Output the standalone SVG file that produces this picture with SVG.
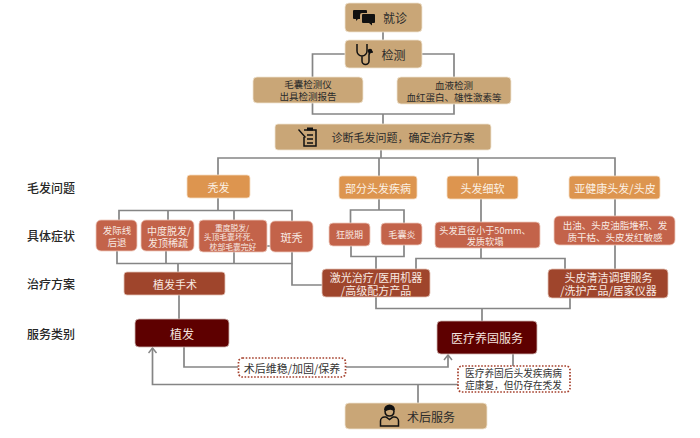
<svg xmlns="http://www.w3.org/2000/svg" width="700" height="438" viewBox="0 0 700 438">
<style>
text{font-family:"Noto Sans CJK SC","Liberation Sans",sans-serif;text-anchor:middle;dominant-baseline:central}
.tan rect{fill:#c9a677;stroke:#f0e4d2;stroke-width:.8}
.tan text{fill:#2b2b2b}
.org rect{fill:#dd954f;stroke:#f5dcc2;stroke-width:.8}
.org text{fill:#fbf1e6;font-size:11px}
.sym rect{fill:#c3634a;stroke:#eec9bd;stroke-width:.8}
.sym text{fill:#f8e9e2}
.tre rect{fill:#9f452c;stroke:#e3c3b6;stroke-width:.8}
.tre text{fill:#f8e9e2}
.srv rect{fill:#5e0000;stroke:#cfb5b0;stroke-width:.8}
.srv text{fill:#f3e3df}
.note rect{fill:#fff;stroke:#a5402c;stroke-width:1.7;stroke-dasharray:1.6 1.6}
.note text{fill:#333}
.lab text{fill:#262626;font-size:12px;font-weight:500}
#connectors path{fill:none;stroke:#858585;stroke-width:1.7}
.ic{fill:#111}
.il{fill:none;stroke:#111;stroke-width:1.5}
</style>
<defs><marker id="a" markerWidth="10" markerHeight="10" refX="6" refY="5" orient="auto" markerUnits="userSpaceOnUse"><path d="M1 1L6 5L1 9" fill="none" stroke="#858585" stroke-width="1.5"/></marker></defs>
<g id="connectors">
<path d="M383 32V40"/>
<path d="M345 54H312.500V114H454V54H422M383 114V124"/>
<path d="M381 150V158M218 175V158H615V176M379 158V176M478 158V176"/>
<path d="M218 198V210.500M119 220V210.500H292V221M168 210.500V220M234 210.500V220"/>
<path d="M117 251V263.500H292V252M166 251V263.500M234 252V263.500M178 263.500V272"/>
<path d="M267 246H270M292 263.500V285H322"/>
<path d="M379 199V210M350.500 223V210H404V223"/>
<path d="M351 246V256.500H404V245M376 256.500V269"/>
<path d="M481 199V222M481 248V258.500M416 269V258.500H565V269"/>
<path d="M615 199V216M615 245V269"/>
<path d="M376 297V308.500H570V298M482 308.500V321"/>
<path d="M179 295V319"/>
<path d="M184 347V367H238"/>
<path d="M346 367H448V355" marker-end="url(#a)"/>
<path d="M418 403V384.500"/>
<path d="M459 384.500H152.500V348" marker-end="url(#a)"/>
<path d="M513 354V366"/>
</g>
<g class="lab">
<g id="lab1"><text x="51" y="187">毛发问题</text></g>
<g id="lab2"><text x="51" y="235">具体症状</text></g>
<g id="lab3"><text x="51" y="283">治疗方案</text></g>
<g id="lab4"><text x="51" y="333">服务类别</text></g>
</g>
<g class="tan">
<g id="n-visit"><rect x="345" y="3" width="77" height="29" rx="4"/><text x="395" y="17" font-size="12">就诊</text>
<path class="ic" d="M354 10h12a1 1 0 0 1 1 1v2h-5a2 2 0 0 0-2 2v4h-2l-2 2v-2h-2a1 1 0 0 1-1-1v-7a1 1 0 0 1 1-1z"/>
<path class="ic" d="M363 14h11a1 1 0 0 1 1 1v7a1 1 0 0 1-1 1h-2v2.500l-3-2.500h-6a1 1 0 0 1-1-1v-7a1 1 0 0 1 1-1z"/></g>
<g id="n-test"><rect x="345" y="40" width="77" height="28" rx="4"/><text x="393.500" y="54" font-size="12">检测</text>
<path class="il" d="M357 44v7a5 5 0 0 0 10 0v-7M362 56v5a3.500 3.500 0 0 0 7 0v-6a3 3 0 0 1 3-3h1"/><circle class="ic" cx="370" cy="51" r="2.300"/></g>
<g id="n-hair-test"><rect x="253" y="77" width="110" height="26" rx="4"/><text font-size="9.500"><tspan x="308" y="84">毛囊检测仪</tspan><tspan x="308" y="96">出具检测报告</tspan></text></g>
<g id="n-blood"><rect x="397" y="77" width="114" height="27" rx="4"/><text font-size="9.500"><tspan x="454" y="84.500">血液检测</tspan><tspan x="454" y="96.500">血红蛋白、雄性激素等</tspan></text></g>
<g id="n-diagnosis"><rect x="275" y="124" width="216" height="26" rx="3"/><text x="403" y="137" font-size="11">诊断毛发问题，确定治疗方案</text>
<path class="il" d="M304 130h12v16h-12v-9M307 135h6M307 139h6M307 143h6" stroke-width="1.200"/><rect x="307" y="127.500" width="6" height="3" style="fill:#111;stroke:none"/><path class="ic" d="M299 129l7 8-1 1-7-8z"/></g>
<g id="n-after"><rect x="345" y="403" width="142" height="26" rx="4"/><text x="431" y="416" font-size="12">术后服务</text>
<path class="ic" d="M384 410a5.500 5.500 0 0 1 11 0l-1 1.500q-3-3.500-9 0z"/><path class="il" d="M385 411q0 5 4.500 5t4.500-5" stroke-width="1"/><path class="il" d="M380.500 426v-5a4 4 0 0 1 4-4h1.500l3.500 2.500 3.500-2.500h1.500a4 4 0 0 1 4 4v5z" stroke-width="1.100"/></g>
</g>
<g class="org">
<g id="n-bald"><rect x="187" y="175" width="63" height="23" rx="3"/><text x="218.500" y="186.500">秃发</text></g>
<g id="n-partial"><rect x="339" y="176" width="78" height="23" rx="3"/><text x="378" y="187.500">部分头发疾病</text></g>
<g id="n-soft"><rect x="447" y="176" width="71" height="23" rx="3"/><text x="482.500" y="187.500">头发细软</text></g>
<g id="n-sub"><rect x="569" y="176" width="91" height="23" rx="3"/><text x="615" y="187.500">亚健康头发/头皮</text></g>
</g>
<g class="sym">
<g id="n-s1"><rect x="96" y="220" width="41" height="31" rx="5"/><text font-size="9.500"><tspan x="117" y="229.500">发际线</tspan><tspan x="117" y="242">后退</tspan></text></g>
<g id="n-s2"><rect x="141" y="220" width="53" height="31" rx="5"/><text font-size="10"><tspan x="169" y="229.500">中度脱发/</tspan><tspan x="168" y="242">发顶稀疏</tspan></text></g>
<g id="n-s3"><rect x="199" y="220" width="68" height="32" rx="4"/><text font-size="7.800"><tspan x="232" y="226.500">重度脱发/</tspan><tspan x="231" y="236">头顶毛囊坏死、</tspan><tspan x="233" y="245.500">枕部毛囊完好</tspan></text></g>
<g id="n-s4"><rect x="270" y="221" width="43" height="31" rx="5"/><text x="291.500" y="236.500" font-size="11">斑秃</text></g>
<g id="n-s5"><rect x="329" y="223" width="41" height="23" rx="4"/><text x="349.500" y="234.500" font-size="9">狂脱期</text></g>
<g id="n-s6"><rect x="381" y="223" width="41" height="22" rx="4"/><text x="402" y="234" font-size="9.200">毛囊炎</text></g>
<g id="n-s7"><rect x="435" y="222" width="105" height="26" rx="4"/><text font-size="9.200"><tspan x="485" y="229.500">头发直径小于50mm、</tspan><tspan x="485" y="241">发质软塌</tspan></text></g>
<g id="n-s8"><rect x="554" y="216" width="121" height="29" rx="5"/><text font-size="9.500"><tspan x="615" y="225">出油、头皮油脂堆积、发</tspan><tspan x="615" y="236.500">质干枯、头皮发红敏感</tspan></text></g>
</g>
<g class="tre">
<g id="n-t1"><rect x="124" y="272" width="101" height="23" rx="3"/><text x="175" y="283.500" font-size="11">植发手术</text></g>
<g id="n-t2"><rect x="322" y="269" width="108" height="28" rx="4"/><text font-size="11"><tspan x="376" y="276.500">激光治疗/医用机器</tspan><tspan x="376" y="289.500">/高级配方产品</tspan></text></g>
<g id="n-t3"><rect x="548" y="269" width="120" height="29" rx="4"/><text font-size="11"><tspan x="608.500" y="277">头皮清洁调理服务</tspan><tspan x="608.500" y="290">/洗护产品/居家仪器</tspan></text></g>
</g>
<g class="srv">
<g id="n-implant"><rect x="135" y="319" width="94" height="28" rx="4"/><text x="182" y="333" font-size="12">植发</text></g>
<g id="n-care"><rect x="437" y="321" width="100" height="33" rx="4"/><text x="487" y="337" font-size="12">医疗养固服务</text></g>
</g>
<g class="note">
<g id="n-note1"><rect x="238.500" y="358" width="107" height="19" rx="4"/><text x="292" y="367.500" font-size="11">术后维稳/加固/保养</text></g>
<g id="n-note2"><rect x="458" y="366" width="112" height="26" rx="4"/><text font-size="9.700"><tspan x="513.500" y="373">医疗养固后头发疾病病</tspan><tspan x="513.500" y="385">症康复，但仍存在秃发</tspan></text></g>
</g>
</svg>
